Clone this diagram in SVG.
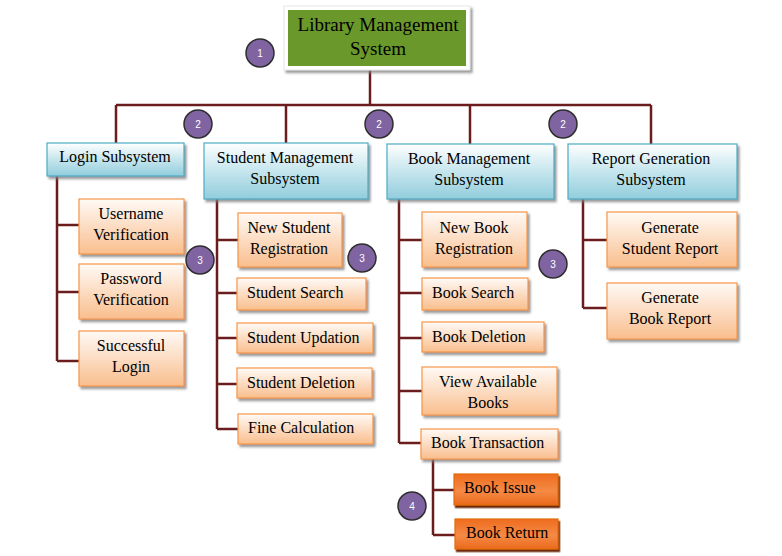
<svg xmlns="http://www.w3.org/2000/svg" width="782" height="556" viewBox="0 0 782 556">
<defs>
<linearGradient id="gBlue" x1="0" y1="0" x2="0" y2="1">
<stop offset="0" stop-color="#FFFFFF"/>
<stop offset="0.45" stop-color="#CBE8EF"/>
<stop offset="1" stop-color="#92CDDC"/>
</linearGradient>
<linearGradient id="gOr" x1="0" y1="0" x2="0" y2="1">
<stop offset="0" stop-color="#FFFAF6"/>
<stop offset="0.5" stop-color="#FCDCC2"/>
<stop offset="1" stop-color="#F9BE8D"/>
</linearGradient>
<linearGradient id="gDk" x1="0" y1="0" x2="0" y2="1">
<stop offset="0" stop-color="#EE6C1E"/>
<stop offset="0.55" stop-color="#F58A45"/>
<stop offset="1" stop-color="#EA6A1C"/>
</linearGradient>
<filter id="sh" x="-10%" y="-20%" width="130%" height="150%">
<feDropShadow dx="2" dy="2.5" stdDeviation="0.8" flood-color="#7F7F7F" flood-opacity="0.8"/>
</filter>
<filter id="shd" x="-10%" y="-20%" width="130%" height="150%">
<feDropShadow dx="1.5" dy="2.5" stdDeviation="0.3" flood-color="#6E2A0A" flood-opacity="1"/>
</filter>
</defs>
<style>
.blue{fill:url(#gBlue);stroke:#4BACC6;stroke-width:1.2;filter:url(#sh)}
.or{fill:url(#gOr);stroke:#F79646;stroke-width:1.2;filter:url(#sh)}
.dk{fill:url(#gDk);stroke:#E46C0A;stroke-width:1.2;filter:url(#shd)}
.t{font-family:"Liberation Serif","Times New Roman",serif;font-size:16px;fill:#000}
.c{text-anchor:middle}
.num circle{fill:#8064A2;stroke:#2E2E2E;stroke-width:1.5}
.num text{font-family:"Liberation Sans",Arial,sans-serif;font-size:10px;fill:#FFFFFF;text-anchor:middle}
.con path{fill:none;stroke:#6B1C1C;stroke-width:2.5}
</style>
<rect width="782" height="556" fill="#FFFFFF"/>
<g class="con" id="connectors">
<path d="M370 68V105"/>
<path d="M116 105H651"/>
<path d="M116 105V143M286 105V143M470 105V144M651 105V144"/>
<path d="M57 176V361M57 225H79M57 292H79M57 361H79"/>
<path d="M217 199V429M217 240H238M217 293H237M217 338H237M217 384H237M217 429H238"/>
<path d="M399 199V443M399 240H422M399 293H422M399 338H422M399 391H422M399 443H421"/>
<path d="M433 459V535M433 490H454M433 535H455"/>
<path d="M583 199V308M583 240H607M583 308H607"/>
</g>
<g id="root">
<rect x="284" y="6" width="186" height="64" fill="#FFFFFF" stroke="#E6E6E6" filter="url(#sh)"/>
<rect x="288" y="10" width="178" height="56" fill="#6A982B"/>
<text class="t c" x="378" y="31" style="font-size:19px">Library Management</text>
<text class="t c" x="378" y="55" style="font-size:19px">System</text>
</g>
<g id="login">
<rect class="blue" x="47" y="143" width="137" height="33"/>
<text class="t c" x="115" y="162">Login Subsystem</text>
</g>
<g id="student">
<rect class="blue" x="204" y="143" width="164" height="56"/>
<text class="t c" x="285" y="163">Student Management</text>
<text class="t c" x="285" y="184">Subsystem</text>
</g>
<g id="book">
<rect class="blue" x="387" y="144" width="167" height="55"/>
<text class="t c" x="469" y="164">Book Management</text>
<text class="t c" x="469" y="185">Subsystem</text>
</g>
<g id="report">
<rect class="blue" x="568" y="144" width="169" height="55"/>
<text class="t c" x="651" y="164">Report Generation</text>
<text class="t c" x="651" y="185">Subsystem</text>
</g>
<g id="username">
<rect class="or" x="79" y="199" width="105" height="55"/>
<text class="t c" x="131" y="219">Username</text>
<text class="t c" x="131" y="240">Verification</text>
</g>
<g id="password">
<rect class="or" x="79" y="264" width="105" height="55"/>
<text class="t c" x="131" y="284">Password</text>
<text class="t c" x="131" y="305">Verification</text>
</g>
<g id="successful">
<rect class="or" x="79" y="331" width="105" height="55"/>
<text class="t c" x="131" y="351">Successful</text>
<text class="t c" x="131" y="372">Login</text>
</g>
<g id="newstudent">
<rect class="or" x="238" y="213" width="104" height="54"/>
<text class="t c" x="289" y="233">New Student</text>
<text class="t c" x="289" y="254">Registration</text>
</g>
<g id="studentsearch">
<rect class="or" x="237" y="278" width="129" height="32"/>
<text class="t" x="247" y="298">Student Search</text>
</g>
<g id="studentupdation">
<rect class="or" x="237" y="323" width="136" height="30"/>
<text class="t" x="247" y="343">Student Updation</text>
</g>
<g id="studentdeletion">
<rect class="or" x="237" y="368" width="135" height="30"/>
<text class="t" x="247" y="388">Student Deletion</text>
</g>
<g id="fine">
<rect class="or" x="238" y="414" width="135" height="30"/>
<text class="t" x="248" y="433">Fine Calculation</text>
</g>
<g id="newbook">
<rect class="or" x="422" y="212" width="105" height="55"/>
<text class="t c" x="474" y="233">New Book</text>
<text class="t c" x="474" y="254">Registration</text>
</g>
<g id="booksearch">
<rect class="or" x="422" y="278" width="106" height="32"/>
<text class="t" x="432" y="298">Book Search</text>
</g>
<g id="bookdeletion">
<rect class="or" x="422" y="322" width="122" height="30"/>
<text class="t" x="432" y="342">Book Deletion</text>
</g>
<g id="viewavailable">
<rect class="or" x="422" y="367" width="135" height="48"/>
<text class="t c" x="488" y="387">View Available</text>
<text class="t c" x="488" y="408">Books</text>
</g>
<g id="booktransaction">
<rect class="or" x="421" y="429" width="137" height="30"/>
<text class="t" x="431" y="448">Book Transaction</text>
</g>
<g id="bookissue">
<rect class="dk" x="454" y="474" width="104" height="31"/>
<text class="t" x="464" y="493">Book Issue</text>
</g>
<g id="bookreturn">
<rect class="dk" x="455" y="519" width="103" height="30"/>
<text class="t" x="466" y="538">Book Return</text>
</g>
<g id="genstudent">
<rect class="or" x="607" y="212" width="130" height="55"/>
<text class="t c" x="670" y="233">Generate</text>
<text class="t c" x="670" y="254">Student Report</text>
</g>
<g id="genbook">
<rect class="or" x="607" y="283" width="130" height="56"/>
<text class="t c" x="670" y="303">Generate</text>
<text class="t c" x="670" y="324">Book Report</text>
</g>
<g class="num" id="badges">
<circle cx="260" cy="53" r="14"/><text x="260" y="57">1</text>
<circle cx="198" cy="124" r="14"/><text x="198" y="128">2</text>
<circle cx="379" cy="124" r="14"/><text x="379" y="128">2</text>
<circle cx="563" cy="124" r="14"/><text x="563" y="128">2</text>
<circle cx="200" cy="260" r="14"/><text x="200" y="264">3</text>
<circle cx="362" cy="258" r="14"/><text x="362" y="262">3</text>
<circle cx="553" cy="264" r="14"/><text x="553" y="268">3</text>
<circle cx="412" cy="506" r="14"/><text x="412" y="510">4</text>
</g>
</svg>
